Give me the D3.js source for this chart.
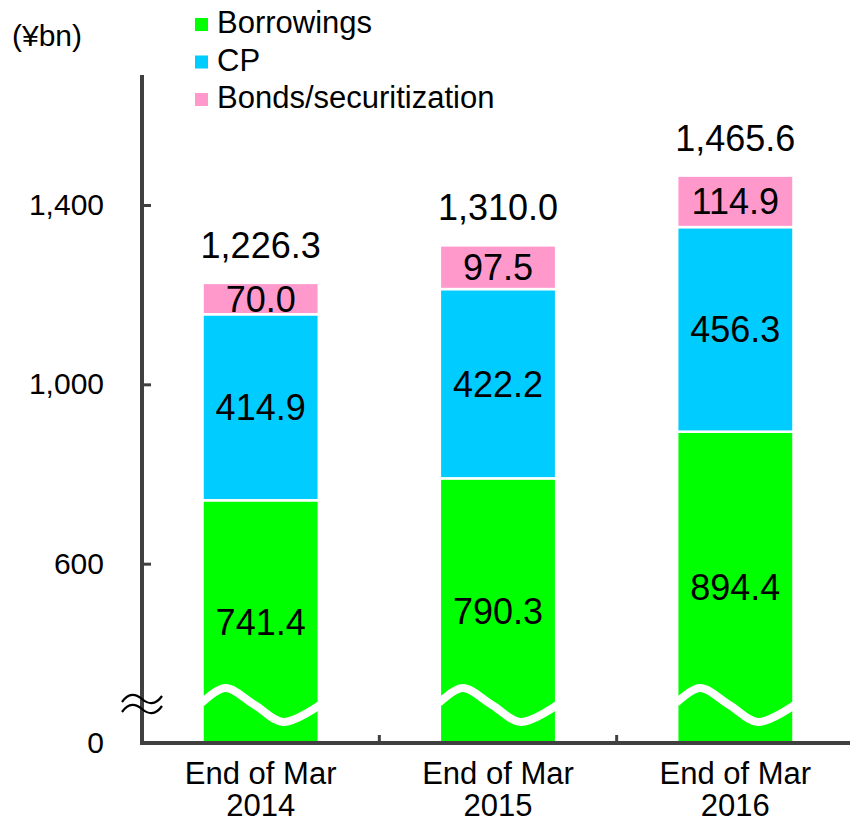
<!DOCTYPE html>
<html>
<head>
<meta charset="utf-8">
<script src="https://cdn.jsdelivr.net/npm/d3@7"></script>
<style>
  html, body { margin: 0; padding: 0; background: #fff; }
  svg { display: block; font-family: "Liberation Sans", Arial, sans-serif; }
</style>
</head>
<body>
<svg id="chart" width="850" height="822"></svg>
<script>
// Funding breakdown, ¥bn
const categories = ["End of Mar 2014", "End of Mar 2015", "End of Mar 2016"];
const borrowings = [741.4, 790.3, 894.4];
const cp = [414.9, 422.2, 456.3];
const bonds = [70.0, 97.5, 114.9];
const seriesNames = ["Borrowings", "CP", "Bonds/securitization"];
const seriesColors = ["#00ff00", "#00ccff", "#ff99cc"];
// Axis is broken: the baseline value shown as "0" sits where 200 would be
const axisBase = 200;
const tickValues = [200, 600, 1000, 1400];
const tickLabels = ["0", "600", "1,000", "1,400"];

const svg = d3.select("#chart");
const axisColor = "#404040";

const x = d3.scaleBand()
  .domain(categories)
  .range([142, 854])
  .paddingInner(0.51)
  .paddingOuter(0.255);

const y = d3.scaleLinear()
  .domain([axisBase, 1400])
  .range([743, 205]);

const rows = categories.map((c, i) => ({
  category: c,
  Borrowings: borrowings[i],
  CP: cp[i],
  "Bonds/securitization": bonds[i]
}));
const stacked = d3.stack().keys(seriesNames)(rows);

// Bars (bottom segment starts at the broken baseline)
const layers = svg.append("g").selectAll("g")
  .data(stacked)
  .join("g")
  .attr("fill", (d, i) => seriesColors[i]);

layers.selectAll("rect")
  .data(d => d)
  .join("rect")
  .attr("x", d => x(d.data.category))
  .attr("width", x.bandwidth())
  .attr("y", d => y(d[1]))
  .attr("height", d => y(Math.max(d[0], axisBase)) - y(d[1]))
  .attr("stroke", "#fff")
  .attr("stroke-width", 2.5);

// Segment value labels
layers.selectAll("text")
  .data(d => d)
  .join("text")
  .attr("x", d => x(d.data.category) + x.bandwidth() / 2)
  .attr("y", d => {
    const lo = y(Math.max(d[0], axisBase)), hi = y(d[1]);
    return (lo + hi) / 2 + 13;
  })
  .attr("text-anchor", "middle")
  .attr("font-size", 36)
  .attr("fill", "#000")
  .text(d => d3.format(".1f")(d[1] - d[0]));

// Wavy white break line across each bar
const wave = [[0, 703], [0.2, 688], [0.45, 705], [0.69, 722], [1, 705]];
const waveLine = d3.line().curve(d3.curveCatmullRom);
svg.append("g").selectAll("path")
  .data(categories)
  .join("path")
  .attr("d", c => waveLine(wave.map(([fx, py]) => [x(c) - 1 + fx * (x.bandwidth() + 2), py])))
  .attr("fill", "none")
  .attr("stroke", "#fff")
  .attr("stroke-width", 8);

// Totals above the bars
svg.append("g").selectAll("text")
  .data(categories)
  .join("text")
  .attr("x", c => x(c) + x.bandwidth() / 2)
  .attr("y", (c, i) => y(borrowings[i] + cp[i] + bonds[i]) - 25)
  .attr("text-anchor", "middle")
  .attr("font-size", 36)
  .attr("fill", "#000")
  .text((c, i) => d3.format(",.1f")(borrowings[i] + cp[i] + bonds[i]));

// Y axis
const yAxis = d3.axisLeft(y)
  .tickValues(tickValues)
  .tickSize(-9)
  .tickPadding(38)
  .tickFormat((d, i) => tickLabels[i]);
const gy = svg.append("g").attr("transform", "translate(142,0)").call(yAxis);
gy.select(".domain").remove();
gy.selectAll(".tick line").attr("stroke", axisColor).attr("stroke-width", 3);
gy.selectAll(".tick text")
  .attr("font-size", 30)
  .attr("fill", "#000")
  .attr("font-family", "Liberation Sans, Arial, sans-serif");
gy.selectAll(".tick").filter(d => d === axisBase).select("line").remove();
gy.append("line")
  .attr("x1", 0).attr("x2", 0)
  .attr("y1", 75).attr("y2", 745)
  .attr("stroke", axisColor)
  .attr("stroke-width", 4);

// Axis break marks
const tilde = "M-20,3 C-13,-7 -6,-5 0,0 S13,7 20,-3";
[699, 709].forEach(cy => {
  svg.append("path")
    .attr("d", tilde)
    .attr("transform", `translate(142,${cy})`)
    .attr("fill", "none")
    .attr("stroke", "#000")
    .attr("stroke-width", 2.2);
});

// X axis baseline with separators between categories
svg.append("line")
  .attr("x1", 140).attr("x2", 850)
  .attr("y1", 743).attr("y2", 743)
  .attr("stroke", axisColor)
  .attr("stroke-width", 4);
svg.append("g").selectAll("line")
  .data(categories.slice(1))
  .join("line")
  .attr("x1", c => x(c) - x.step() * x.paddingInner() / 2)
  .attr("x2", c => x(c) - x.step() * x.paddingInner() / 2)
  .attr("y1", 743).attr("y2", 735)
  .attr("stroke", axisColor)
  .attr("stroke-width", 3);

// Category labels on two lines
const catText = svg.append("g").selectAll("text")
  .data(categories)
  .join("text")
  .attr("x", c => x(c) + x.bandwidth() / 2)
  .attr("y", 784)
  .attr("text-anchor", "middle")
  .attr("font-size", 31)
  .attr("fill", "#000");
catText.append("tspan")
  .attr("x", c => x(c) + x.bandwidth() / 2)
  .text(c => c.replace(/ \d{4}$/, ""));
catText.append("tspan")
  .attr("x", c => x(c) + x.bandwidth() / 2)
  .attr("dy", 32)
  .text(c => c.match(/\d{4}$/)[0]);

// Unit label
svg.append("text")
  .attr("x", 12).attr("y", 46)
  .attr("font-size", 30)
  .attr("fill", "#000")
  .text("(¥bn)");

// Legend
const legend = svg.append("g").selectAll("g")
  .data(seriesNames)
  .join("g")
  .attr("transform", (d, i) => `translate(195,${18 + i * 37.5})`);
legend.append("rect")
  .attr("width", 13).attr("height", 13)
  .attr("fill", (d, i) => seriesColors[i]);
legend.append("text")
  .attr("x", 22).attr("y", 15)
  .attr("font-size", 31)
  .attr("fill", "#000")
  .text(d => d);
</script>
</body>
</html>
